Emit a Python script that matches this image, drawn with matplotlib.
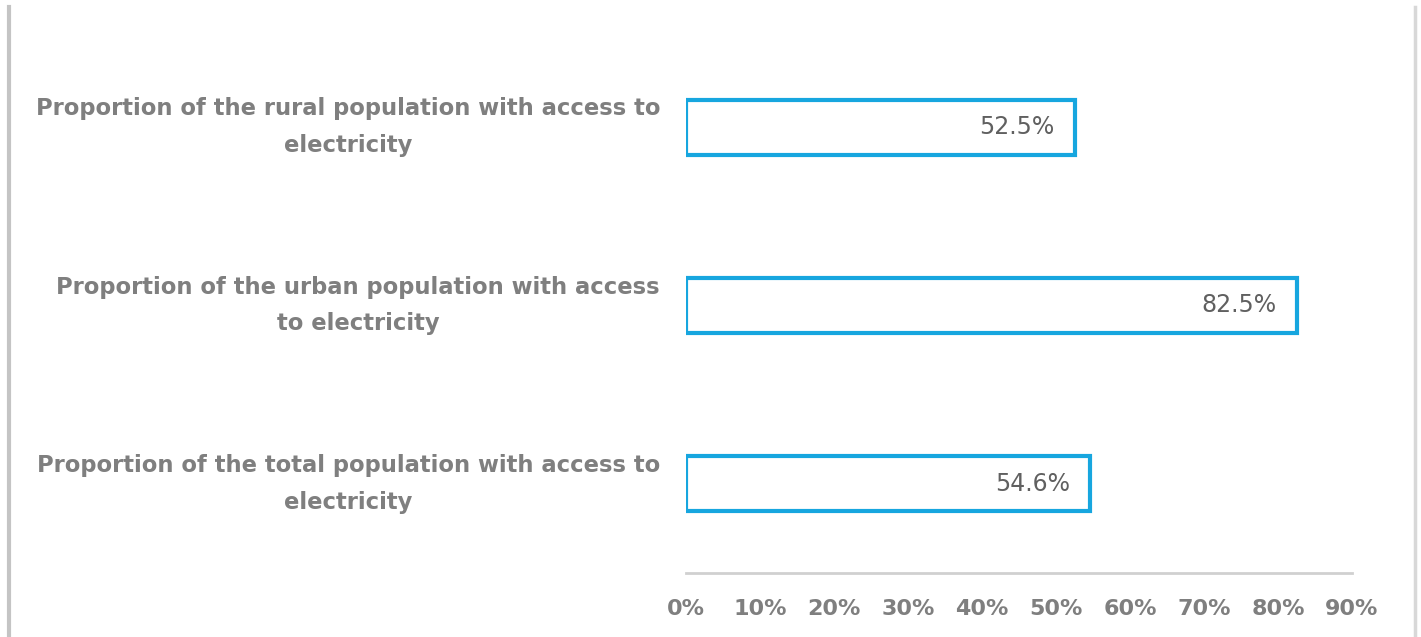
import matplotlib
matplotlib.use("Agg")
import matplotlib.pyplot as plt
from matplotlib.lines import Line2D

categories = [
    "Proportion of the rural population with access to\nelectricity",
    "Proportion of the urban population with access\nto electricity",
    "Proportion of the total population with access to\nelectricity",
]
values = [52.5, 82.5, 54.6]
value_labels = ["52.5%", "82.5%", "54.6%"]
xticks = [0, 10, 20, 30, 40, 50, 60, 70, 80, 90]
xtick_labels = ["0%", "10%", "20%", "30%", "40%", "50%", "60%", "70%", "80%", "90%"]

W, H = 1421, 637
fig = plt.figure(figsize=(W / 100, H / 100), dpi=100)
fig.patch.set_facecolor("white")

ax = fig.add_axes([686 / W, 1 - 573 / H, (1352 - 686) / W, (573 - 38) / H])
ypos = list(range(len(categories)))[::-1]
bar_color = "#17a6df"
ax.barh(ypos, values, height=0.31, color="white", edgecolor=bar_color, linewidth=3.0)
ax.set_xlim(0, 90)
ax.set_ylim(-0.5, 2.5)

for y, v, lab in zip(ypos, values, value_labels):
    ax.annotate(lab, xy=(v, y), xytext=(-20, 0), textcoords="offset pixels",
                ha="right", va="center", fontsize=17, color="#606060",
                family="DejaVu Sans")

for sp in ["top", "right", "left"]:
    ax.spines[sp].set_visible(False)
ax.spines["bottom"].set_color("#d0d0d0")
ax.spines["bottom"].set_linewidth(2)
ax.set_xticks(xticks)
ax.set_xticklabels(xtick_labels, fontsize=16, fontweight="bold", color="#7f7f7f")
ax.tick_params(axis="x", length=0, pad=19)
ax.set_yticks(ypos)
ax.set_yticklabels(categories, fontsize=16.3, fontweight="bold", color="#7f7f7f",
                   multialignment="center", linespacing=1.75)
for t in ax.get_yticklabels():
    t.set_verticalalignment("center")
ax.tick_params(axis="y", length=0, pad=18.7)

# frame lines of the original screenshot
fig.add_artist(Line2D([9 / W, 9 / W], [0, 1 - 7 / H], transform=fig.transFigure,
                      color="#c4c4c4", linewidth=3))
fig.add_artist(Line2D([1415 / W, 1415 / W], [0, 1 - 7 / H], transform=fig.transFigure,
                      color="#d8d8d8", linewidth=2.5))

fig.savefig("out.png", dpi=100, facecolor="white")
